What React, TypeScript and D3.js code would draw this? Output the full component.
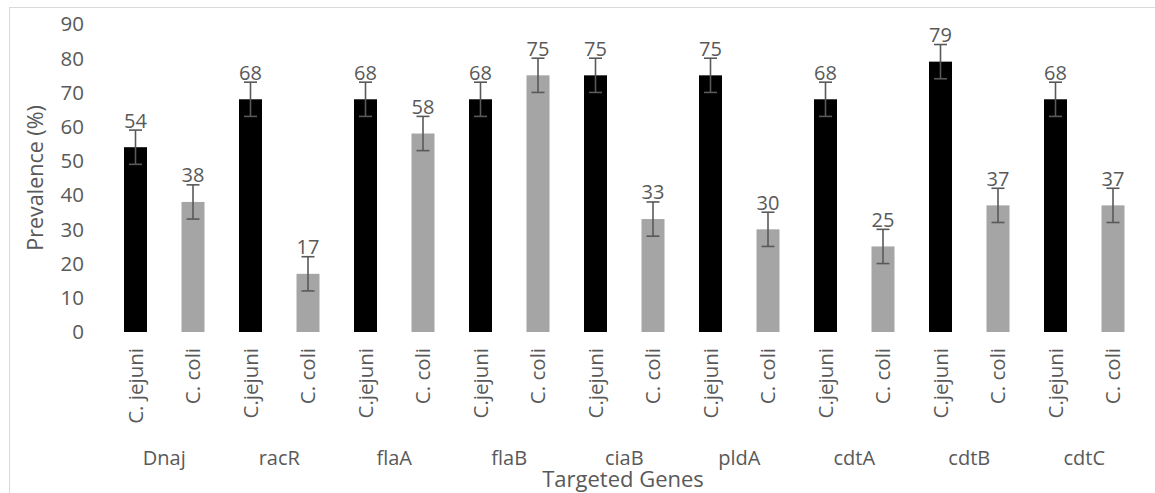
import React from "react";
import * as d3 from "d3";

const genes = ["Dnaj", "racR", "flaA", "flaB", "ciaB", "pldA", "cdtA", "cdtB", "cdtC"];
const jejuniLabels = ["C. jejuni", "C.jejuni", "C.jejuni", "C.jejuni", "C.jejuni", "C.jejuni", "C.jejuni", "C.jejuni", "C.jejuni"];
const coliLabels = ["C. coli", "C. coli", "C. coli", "C. coli", "C. coli", "C. coli", "C. coli", "C. coli", "C. coli"];
const jejuniValues = [54, 68, 68, 68, 75, 75, 68, 79, 68];
const coliValues = [38, 17, 58, 75, 33, 30, 25, 37, 37];
const errorValue = 5;
const yTicks = [0, 10, 20, 30, 40, 50, 60, 70, 80, 90];

const FONT = "'Open Sans', 'Noto Sans', sans-serif";
const TEXT = "#595959";

export default function App() {
  const bars = genes.flatMap((g, i) => [
    { key: `${g}-j`, gene: g, label: jejuniLabels[i], value: jejuniValues[i], color: "#000000" },
    { key: `${g}-c`, gene: g, label: coliLabels[i], value: coliValues[i], color: "#A5A5A5" },
  ]);

  const x = d3
    .scaleBand<string>()
    .domain(bars.map((b) => b.key))
    .range([106.75, 1141.75])
    .paddingInner(0.6)
    .paddingOuter(0.3);
  const y = d3.scaleLinear().domain([0, 90]).range([332, 24]);
  const bw = x.bandwidth();

  return (
    <svg
      width={1155}
      height={493}
      style={{ position: "absolute", left: 0, top: 0, background: "#fff" }}
      fontFamily={FONT}
    >
      <rect x={9.5} y={7.5} width={1160} height={500} fill="#fff" stroke="#D9D9D9" strokeWidth={1} />
      {yTicks.map((t) => (
        <text key={t} x={84} y={y(t)} dy="0.36em" textAnchor="end" fontSize={20.5} fill={TEXT}>
          {t}
        </text>
      ))}
      <text
        transform={`translate(43,${y(45)}) rotate(-90)`}
        textAnchor="middle"
        fontSize={21.5}
        fill={TEXT}
      >
        Prevalence (%)
      </text>
      {bars.map((b) => {
        const x0 = x(b.key)!;
        const cx = x0 + bw / 2;
        return (
          <g key={b.key}>
            <rect x={x0} y={y(b.value)} width={bw} height={y(0) - y(b.value)} fill={b.color} />
            <g stroke="#595959" strokeWidth={1.6}>
              <line x1={cx} x2={cx} y1={y(b.value + errorValue)} y2={y(b.value - errorValue)} />
              <line x1={cx - 6.5} x2={cx + 6.5} y1={y(b.value + errorValue)} y2={y(b.value + errorValue)} />
              <line x1={cx - 6.5} x2={cx + 6.5} y1={y(b.value - errorValue)} y2={y(b.value - errorValue)} />
            </g>
            <text x={cx} y={y(b.value + errorValue) - 2.5} textAnchor="middle" fontSize={20} fill={TEXT}>
              {b.value}
            </text>
            <text
              transform={`translate(${cx},348) rotate(-90)`}
              textAnchor="end"
              dy="0.36em"
              fontSize={20.5}
              fill={TEXT}
            >
              {b.label}
            </text>
          </g>
        );
      })}
      {genes.map((g) => {
        const a = x(`${g}-j`)! + bw / 2;
        const c = x(`${g}-c`)! + bw / 2;
        return (
          <text key={g} x={(a + c) / 2} y={465} textAnchor="middle" fontSize={20} fill={TEXT}>
            {g}
          </text>
        );
      })}
      <text x={623} y={487} textAnchor="middle" fontSize={22} fill={TEXT}>
        Targeted Genes
      </text>
    </svg>
  );
}
